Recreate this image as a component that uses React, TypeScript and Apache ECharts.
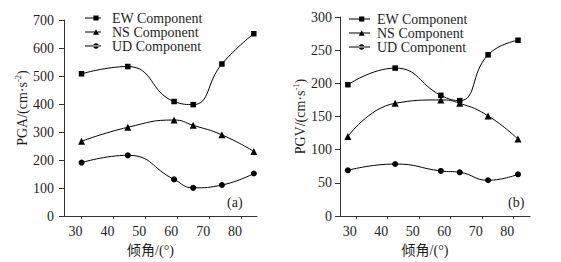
import React, { useEffect, useRef } from 'react';
import * as echarts from 'echarts';

// ---- data ----
const xTicks = [30, 40, 50, 60, 70, 80];
const seriesNames = ['EW Component', 'NS Component', 'UD Component'];
const seriesSymbols = ['rect', 'triangle', 'circle'];
const symbolSizes = [5.5, 7, 6];

// (a) PGA
const anglesA = [30, 44.5, 59, 65, 74, 84];
const pgaEW = [508, 534, 409, 398, 543, 651];
const pgaNS = [267, 317, 343, 324, 290, 231];
const pgaUD = [191, 217, 131, 101, 111, 152];

// (b) PGV
const anglesB = [27.5, 42.5, 57, 63, 72, 81.5];
const pgvEW = [198, 223, 182, 174, 243, 265];
const pgvNS = [120, 170, 175, 170, 151, 116];
const pgvUD = [69, 78.5, 68, 66, 54, 63];

const serif = "'Liberation Serif', 'Times New Roman', serif";
const cjk = "'Liberation Serif', 'Noto Sans CJK SC', serif";
const txt = '#1e1e1e';
const axisColor = '#333';

function icons(w: number, cx: number) {
  const line = `M0,2.5h${w}v1h-${w}z`;
  return [
    `path://${line}M${cx - 2.6},0.4h5.2v5.2h-5.2z`,
    `path://${line}M${cx - 3},5.8L${cx},0.2L${cx + 3},5.8z`,
    `path://${line}M${cx - 2.7},3a2.7,2.7 0 1 0 5.4,0a2.7,2.7 0 1 0 -5.4,0z`,
  ];
}

function xAxis(gridIndex: number, min: number, max: number) {
  return {
    type: 'value',
    gridIndex,
    min,
    max,
    name: '倾角/(°)',
    nameLocation: 'middle',
    nameGap: 26,
    nameTextStyle: { fontFamily: cjk, fontSize: 14, color: txt, padding: [0, 20, 0, 0] },
    axisLine: { show: true, onZero: false, lineStyle: { color: axisColor, width: 1 } },
    axisTick: { show: true, customValues: xTicks, length: 3, lineStyle: { color: axisColor } },
    axisLabel: { customValues: xTicks, fontFamily: serif, fontSize: 14, color: txt, margin: 8, padding: [0, 12, 0, 0] },
    splitLine: { show: false },
  };
}

function yAxis(gridIndex: number, max: number, interval: number, name: string, gap: number, pad: number, margin: number) {
  return {
    type: 'value',
    gridIndex,
    min: 0,
    max,
    interval,
    name,
    nameLocation: 'middle',
    nameGap: gap,
    nameTextStyle: {
      padding: [0, 0, 0, pad],
      rich: {
        a: { fontFamily: serif, fontSize: 14, color: txt, lineHeight: 17 },
        s: { fontFamily: serif, fontSize: 8.5, color: txt, verticalAlign: 'top', lineHeight: 9 },
      },
    },
    axisLine: { show: true, lineStyle: { color: axisColor, width: 1 } },
    axisTick: { show: true, length: 5, lineStyle: { color: axisColor } },
    axisLabel: { fontFamily: serif, fontSize: 14, color: txt, margin },
    splitLine: { show: false },
  };
}

function mkSeries(idx: number, xs: number[], ys: number[], gridIdx: number) {
  return {
    type: 'line',
    name: seriesNames[idx],
    xAxisIndex: gridIdx,
    yAxisIndex: gridIdx,
    data: xs.map((x, i) => [x, ys[i]]),
    smooth: 0.5,
    symbol: seriesSymbols[idx],
    symbolSize: symbolSizes[idx],
    showSymbol: true,
    itemStyle: { color: '#000', borderWidth: 0 },
    lineStyle: { color: '#000', width: 1 },
    emphasis: { disabled: true },
  };
}

function legend(left: number, top: number, w: number, cx: number, textPad: number) {
  const ic = icons(w, cx);
  return {
    orient: 'vertical',
    left,
    top,
    itemWidth: w,
    itemHeight: 6,
    itemGap: 0,
    selectedMode: false,
    padding: 0,
    itemStyle: { borderWidth: 0 },
    data: seriesNames.map((n, i) => ({ name: n, icon: ic[i] })),
    textStyle: { fontFamily: serif, fontSize: 14, color: txt, lineHeight: 14, padding: [0, 0, 0, textPad] },
  };
}

export default function App() {
  const ref = useRef<HTMLDivElement>(null);
  useEffect(() => {
    if (!ref.current) return;
    const chart = echarts.init(ref.current, null, { renderer: 'svg' });
    chart.setOption({
      animation: false,
      backgroundColor: '#fff',
      grid: [
        { left: 64, right: 304, top: 20, bottom: 43 },
        { left: 340, right: 31, top: 17, bottom: 41 },
      ],
      xAxis: [xAxis(0, 24.5, 85), xAxis(1, 25, 85.3)],
      yAxis: [
        yAxis(0, 700, 100, '{a|PGA/(cm·s}{s|-2}{a|)}', 28, 20, 10),
        yAxis(1, 300, 50, '{a|PGV/(cm·s}{s|-1}{a|)}', 24, 0, 8),
      ],
      legend: [legend(85, 11, 16, 11, 6), legend(349, 12, 21, 12.7, 2)],
      series: [
        mkSeries(0, anglesA, pgaEW, 0),
        mkSeries(1, anglesA, pgaNS, 0),
        mkSeries(2, anglesA, pgaUD, 0),
        mkSeries(0, anglesB, pgvEW, 1),
        mkSeries(1, anglesB, pgvNS, 1),
        mkSeries(2, anglesB, pgvUD, 1),
      ],
      graphic: [
        { type: 'text', left: 227, top: 195, style: { text: '(a)', fontFamily: serif, fontSize: 14, fill: txt } },
        { type: 'text', left: 508, top: 195, style: { text: '(b)', fontFamily: serif, fontSize: 14, fill: txt } },
      ],
    });
    return () => chart.dispose();
  }, []);
  return <div ref={ref} style={{ position: 'fixed', left: 0, top: 0, width: 561, height: 262 }} />;
}
